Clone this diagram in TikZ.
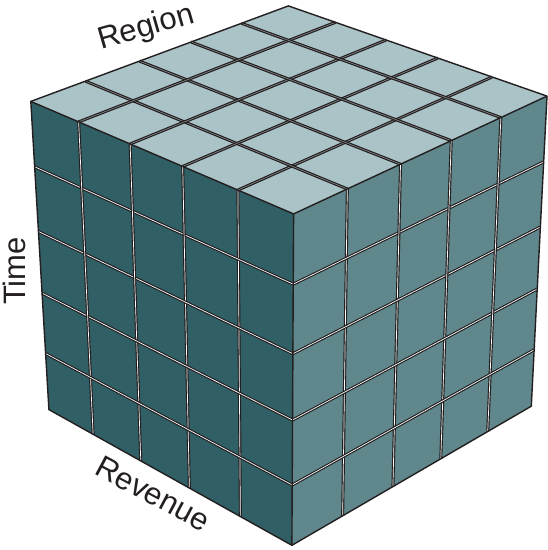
\documentclass[tikz,border=0pt]{standalone}
\usepackage{fontspec}
\setmainfont{Liberation Sans}
\usetikzlibrary{calc}
\definecolor{leftface}{RGB}{48,95,101}
\definecolor{rightface}{RGB}{95,135,140}
\definecolor{topface}{RGB}{170,195,199}
\definecolor{ink}{RGB}{35,31,32}
\begin{document}
\begin{tikzpicture}[x=1pt,y=-1pt,
  gridblack/.style={line width=3pt, ink},
  gridwhite/.style={line width=0.7pt, white},
  gridgray/.style={line width=0.6pt, black!45},
  edge/.style={line width=1.4pt, ink, line join=round},
  axislabel/.style={font=\fontsize{31}{31}\selectfont, text=ink, inner sep=0pt}]
\useasboundingbox (0,0) rectangle (548,550);
% cube corners
\coordinate (F)  at (293.6,213.9);
\coordinate (L)  at (30.8,101.4);
\coordinate (B)  at (288.4,5.9);
\coordinate (R)  at (547,96.1);
\coordinate (BF) at (291.9,545.3);
\coordinate (BL) at (48.9,409.6);
\coordinate (BR) at (531.3,406.2);
% faces
\fill[topface]   (F) -- (L) -- (B) -- (R) -- cycle;
\fill[leftface]  (F) -- (L) -- (BL) -- (BF) -- cycle;
\fill[rightface] (F) -- (R) -- (BR) -- (BF) -- cycle;
% grid lines
\foreach \q in {0.212,0.422,0.622,0.818}{
  % top face
  \draw[gridblack] ($(F)!\q!(L)$) -- ($(R)!\q!(B)$);
  \draw[gridgray]  ($(F)!\q!(L)$) -- ($(R)!\q!(B)$);
  \draw[gridblack] ($(F)!\q!(R)$) -- ($(L)!\q!(B)$);
  \draw[gridgray]  ($(F)!\q!(R)$) -- ($(L)!\q!(B)$);
  % left face
  \draw[gridblack] ($(F)!\q!(L)$) -- ($(BF)!\q!(BL)$);
  \draw[gridwhite] ($(F)!\q!(L)$) -- ($(BF)!\q!(BL)$);
  \draw[gridblack] ($(F)!\q!(BF)$) -- ($(L)!\q!(BL)$);
  \draw[gridwhite] ($(F)!\q!(BF)$) -- ($(L)!\q!(BL)$);
  % right face
  \draw[gridblack] ($(F)!\q!(R)$) -- ($(BF)!\q!(BR)$);
  \draw[gridwhite] ($(F)!\q!(R)$) -- ($(BF)!\q!(BR)$);
  \draw[gridblack] ($(F)!\q!(BF)$) -- ($(R)!\q!(BR)$);
  \draw[gridwhite] ($(F)!\q!(BF)$) -- ($(R)!\q!(BR)$);
}
% outer edges
\draw[edge] (L) -- (B) -- (R) -- (BR) -- (BF) -- (BL) -- cycle;
\draw[edge] (L) -- (F) -- (R);
\draw[edge] (F) -- (BF);
% labels
\node[axislabel, anchor=base, rotate=16] (region) at (148.5,36) {Region};
\node[axislabel, anchor=base, rotate=90] (time) at (25,271) {Time};
\node[axislabel, anchor=base, rotate=-28] (revenue) at (148,503) {Revenue};
\end{tikzpicture}
\end{document}
